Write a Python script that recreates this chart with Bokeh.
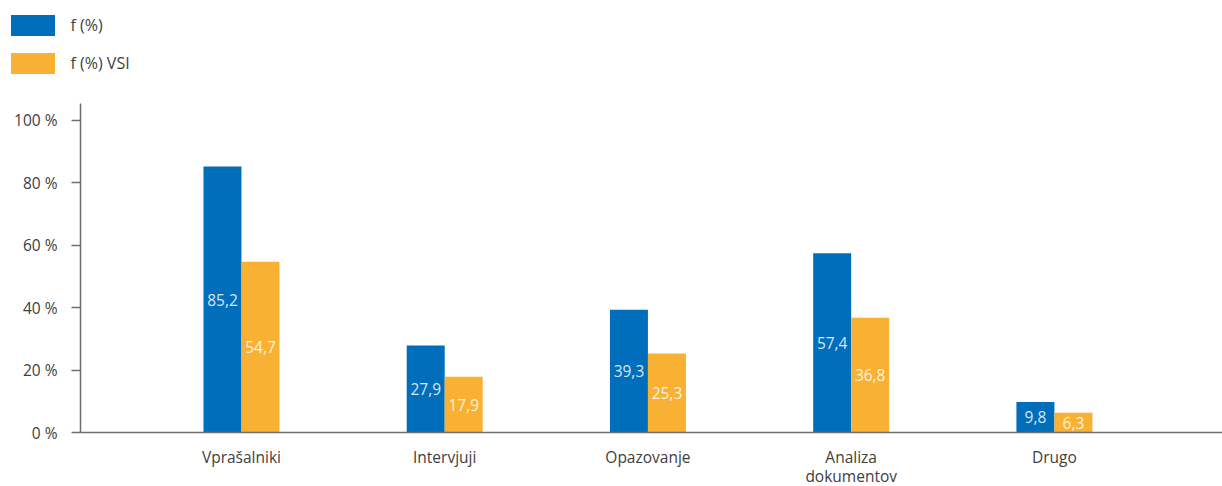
from bokeh.plotting import figure
from bokeh.layouts import column
from bokeh.models import Range1d, FixedTicker, Legend, LegendItem, ColumnDataSource
from bokeh.core.properties import value
from bokeh.embed import file_html
from bokeh.resources import INLINE

categories = ["Vprašalniki", "Intervjuji", "Opazovanje", "Analiza\ndokumentov", "Drugo"]
series_names = ["f (%)", "f (%) VSI"]
f_pct = [85.2, 27.9, 39.3, 57.4, 9.8]
f_pct_vsi = [54.7, 17.9, 25.3, 36.8, 6.3]
y_ticks = [0, 20, 40, 60, 80, 100]
y_tick_labels = ["0 %", "20 %", "40 %", "60 %", "80 %", "100 %"]

BLUE = "#006EBB"
ORANGE = "#F8B133"
FONT = "Open Sans"
TXT = "#404040"
AX = "#6e6e6e"

bw = 0.187
off = bw / 2
xs = list(range(len(categories)))

# ---- legend strip (top) ----
lg = figure(width=1222, height=95, output_backend="svg", toolbar_location=None,
            x_axis_type=None, y_axis_type=None, x_range=Range1d(0, 1), y_range=Range1d(0, 1),
            min_border=0)
lg.frame_align = False
lg.outline_line_color = None
lg.xgrid.visible = False
lg.ygrid.visible = False
d1 = lg.vbar(x=[0.5], top=[0], width=0.1, fill_color=BLUE, line_color=None)
d2 = lg.vbar(x=[0.5], top=[0], width=0.1, fill_color=ORANGE, line_color=None)
legend = Legend(items=[LegendItem(label=series_names[0], renderers=[d1]),
                       LegendItem(label=series_names[1], renderers=[d2])],
                location=(4.5, 19), orientation="vertical",
                glyph_width=55, glyph_height=26, label_standoff=11, spacing=12,
                padding=0, margin=0, border_line_color=None, background_fill_alpha=0,
                label_text_font=FONT, label_text_font_size="16px", label_text_color=TXT)
lg.add_layout(legend, "center")

# ---- main chart ----
p = figure(frame_width=1142, frame_height=329, output_backend="svg", toolbar_location=None,
           x_range=Range1d(-0.792, 4.827), y_range=Range1d(0, 105.4),
           min_border_left=80, min_border_right=0, min_border_top=8, min_border_bottom=40)
p.frame_align = False
p.outline_line_color = None
p.xgrid.visible = False
p.ygrid.visible = False

src1 = ColumnDataSource(dict(x=[x - off for x in xs], top=f_pct, mid=[v / 2 for v in f_pct],
                             lab=[f"{v:.1f}".replace(".", ",") for v in f_pct]))
src2 = ColumnDataSource(dict(x=[x + off for x in xs], top=f_pct_vsi, mid=[v / 2 for v in f_pct_vsi],
                             lab=[f"{v:.1f}".replace(".", ",") for v in f_pct_vsi]))

p.vbar(x="x", top="top", width=bw, bottom=0, source=src1, fill_color=BLUE, line_color=None)
p.vbar(x="x", top="top", width=bw, bottom=0, source=src2, fill_color=ORANGE, line_color=None)

for s in (src1, src2):
    p.text(x="x", y="mid", text="lab", source=s, text_align="center", text_baseline="middle",
           text_color="white", text_alpha=0.85, text_font=value(FONT), text_font_size="15.5px")

p.xaxis.ticker = FixedTicker(ticks=xs)
p.xaxis.major_label_overrides = {i: c for i, c in enumerate(categories)}
p.xaxis.major_tick_line_color = None
p.xaxis.minor_tick_line_color = None
p.xaxis.axis_line_color = AX
p.xaxis.axis_line_width = 1.5
p.xaxis.major_label_text_font = FONT
p.xaxis.major_label_text_font_size = "15.5px"
p.xaxis.major_label_text_color = TXT
p.xaxis.major_label_text_line_height = 0.9
p.xaxis.major_label_standoff = 7

p.yaxis.ticker = FixedTicker(ticks=y_ticks)
p.yaxis.major_label_overrides = {t: l for t, l in zip(y_ticks, y_tick_labels)}
p.yaxis.minor_tick_line_color = None
p.yaxis.major_tick_in = 0
p.yaxis.major_tick_out = 9
p.yaxis.major_tick_line_color = AX
p.yaxis.major_tick_line_width = 1.5
p.yaxis.axis_line_color = AX
p.yaxis.axis_line_width = 1.5
p.yaxis.major_label_text_font = FONT
p.yaxis.major_label_text_font_size = "15.5px"
p.yaxis.major_label_text_color = TXT
p.yaxis.major_label_standoff = 14

layout = column(lg, p, spacing=0)
open("out.html", "w").write(file_html(layout, INLINE))
